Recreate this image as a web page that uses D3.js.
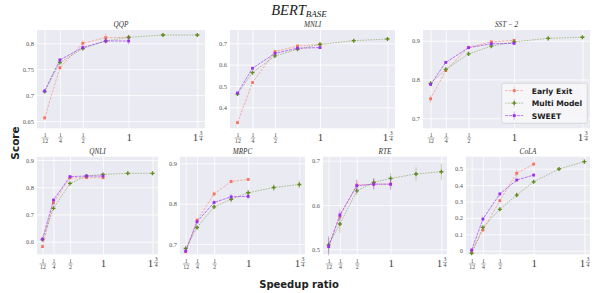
<!DOCTYPE html>
<html>
<head>
<meta charset="utf-8">
<script src="https://cdn.jsdelivr.net/npm/d3@7"></script>
<style>
body { margin: 0; background: #fff; }
</style>
</head>
<body>
<svg id="chart" width="598" height="293"></svg>
<script>
// tasks, in panel order
const tasks = ["QQP", "MNLI", "SST − 2", "QNLI", "MRPC", "RTE", "CoLA"];

// speedup ratios
const ratiosShort = [1/12, 1/4, 1/2, 3/4, 1];
const ratiosLong = [1/12, 1/4, 1/2, 3/4, 1, 1.375, 1.75];
const xTicks = [1/12, 1/4, 1/2, 1, 1.75];
const xTickLabels = ["1/12", "1/4", "1/2", "1", "1 3/4"];

const yTicks = [
  [0.65, 0.7, 0.75, 0.8],
  [0.4, 0.5, 0.6, 0.7],
  [0.7, 0.8, 0.9],
  [0.6, 0.7, 0.8, 0.9],
  [0.7, 0.8, 0.9],
  [0.5, 0.6, 0.7],
  [0, 0.1, 0.2, 0.3, 0.4, 0.5]
];

const earlyExit = [
  [0.656, 0.753, 0.800, 0.811, 0.8115],
  [0.328, 0.516, 0.661, 0.6875, 0.695],
  [0.750, 0.823, 0.883, 0.897, 0.901],
  [0.582, 0.743, 0.834, 0.835, 0.835],
  [0.681, 0.759, 0.824, 0.855, 0.860],
  [0.5075, 0.574, 0.645, 0.647, 0.647],
  [-0.006, 0.126, 0.305, 0.472, 0.528]
];
const earlyExitErr = [
  [0.003, 0.004, 0.007, 0.008, 0.006],
  [0.003, 0.003, 0.004, 0.003, 0.003],
  [0.010, 0.004, 0.003, 0.003, 0.003],
  [0.004, 0.004, 0.004, 0.004, 0.004],
  [0.004, 0.005, 0.007, 0.005, 0.004],
  [0.010, 0.010, 0.012, 0.012, 0.012],
  [0.010, 0.010, 0.010, 0.025, 0.010]
];

const multiModel = [
  [0.707, 0.763, 0.790, 0.8045, 0.8115, 0.816, 0.816],
  [0.4625, 0.5625, 0.641, 0.672, 0.695, 0.7125, 0.720],
  [0.790, 0.826, 0.866, 0.886, 0.897, 0.906, 0.909],
  [0.608, 0.7225, 0.814, 0.841, 0.847, 0.851, 0.851],
  [0.689, 0.741, 0.792, 0.811, 0.827, 0.840, 0.8475],
  [0.510, 0.557, 0.632, 0.651, 0.660, 0.670, 0.675],
  [-0.016, 0.142, 0.252, 0.339, 0.420, 0.498, 0.543]
];
const multiModelErr = [
  [0.002, 0.003, 0.003, 0.003, 0.003, 0.003, 0.003],
  [0.003, 0.003, 0.003, 0.003, 0.003, 0.003, 0.003],
  [0.003, 0.003, 0.003, 0.003, 0.003, 0.003, 0.003],
  [0.004, 0.004, 0.004, 0.004, 0.004, 0.004, 0.004],
  [0.005, 0.005, 0.006, 0.008, 0.008, 0.008, 0.010],
  [0.020, 0.020, 0.010, 0.010, 0.012, 0.015, 0.018],
  [0.010, 0.012, 0.010, 0.015, 0.010, 0.005, 0.005]
];

const sweet = [
  [0.708, 0.768, 0.792, 0.8045, 0.8045],
  [0.467, 0.583, 0.653, 0.677, 0.680],
  [0.787, 0.844, 0.882, 0.892, 0.893],
  [0.609, 0.753, 0.839, 0.841, 0.841],
  [0.6825, 0.755, 0.803, 0.817, 0.818],
  [0.506, 0.5775, 0.6435, 0.647, 0.647],
  [0.004, 0.193, 0.346, 0.431, 0.461]
];
const sweetErr = [
  [0.002, 0.003, 0.004, 0.006, 0.007],
  [0.003, 0.003, 0.003, 0.003, 0.003],
  [0.003, 0.003, 0.003, 0.003, 0.003],
  [0.004, 0.004, 0.004, 0.004, 0.004],
  [0.004, 0.005, 0.007, 0.007, 0.007],
  [0.020, 0.012, 0.013, 0.012, 0.013],
  [0.010, 0.015, 0.010, 0.010, 0.010]
];

// layout of each panel (plot area in px) and its y range
const panels = [
  {x0: 37,  x1: 205, y0: 30,    y1: 128.3, yDom: [0.636, 0.8257]},
  {x0: 230, x1: 395, y0: 30,    y1: 128.3, yDom: [0.3016, 0.7624]},
  {x0: 423, x1: 590, y0: 30,    y1: 128.3, yDom: [0.674, 0.9276]},
  {x0: 37,  x1: 158, y0: 156.7, y1: 254.3, yDom: [0.5537, 0.912]},
  {x0: 180, x1: 305, y0: 156.7, y1: 254.3, yDom: [0.6745, 0.9164]},
  {x0: 323, x1: 447, y0: 156.7, y1: 254.3, yDom: [0.4887, 0.709]},
  {x0: 466, x1: 590, y0: 156.7, y1: 254.3, yDom: [-0.022, 0.573]}
];

const series = [
  {name: "Early Exit", vals: earlyExit, errs: earlyExitErr, xs: ratiosShort,
   color: "#f8735f", lineOp: 0.65, dash: "2.5,1.3", marker: "square"},
  {name: "Multi Model", vals: multiModel, errs: multiModelErr, xs: ratiosLong,
   color: "#5f8c1f", lineOp: 0.6, dash: "1.6,1.1", marker: "plus"},
  {name: "SWEET", vals: sweet, errs: sweetErr, xs: ratiosShort,
   color: "#9b2ff0", lineOp: 0.8, dash: "3,0.9", marker: "square"}
];

const serif = "'Liberation Serif', 'DejaVu Serif', serif";
const sans = "'DejaVu Sans', sans-serif";

const svg = d3.select("#chart");

function drawMarker(g, type, cx, cy, color) {
  if (type === "square") {
    g.append("rect")
      .attr("x", cx - 1.4).attr("y", cy - 1.4)
      .attr("width", 2.8).attr("height", 2.8)
      .attr("fill", color);
  } else {
    g.append("path")
      .attr("d", d3.symbol(d3.symbolCross, 9)())
      .attr("transform", `translate(${cx},${cy})`)
      .attr("fill", color);
  }
}

function drawTickLabel(g, label) {
  if (label === "1") {
    g.append("text").attr("y", 12.6).attr("text-anchor", "middle")
      .attr("font-size", 11).text("1");
    return;
  }
  let cx = 0, top = 0, fs = 5.8, big = null;
  if (label.includes(" ")) {
    big = label.split(" ")[0];
    label = label.split(" ")[1];
    cx = 3.2; top = -1.6;
    g.append("text").attr("x", -2.4).attr("y", 12.6).attr("text-anchor", "middle")
      .attr("font-size", 11).text(big);
  }
  const [num, den] = label.split("/");
  g.append("text").attr("x", cx).attr("y", top + 8.3).attr("text-anchor", "middle")
    .attr("font-size", fs).text(num);
  const bw = den.length > 1 ? 3.4 : 2.2;
  g.append("line").attr("x1", cx - bw).attr("x2", cx + bw)
    .attr("y1", top + 9.7).attr("y2", top + 9.7)
    .attr("stroke", "#444").attr("stroke-width", 0.45);
  g.append("text").attr("x", cx).attr("y", top + 14.6).attr("text-anchor", "middle")
    .attr("font-size", fs).text(den);
}

panels.forEach((p, i) => {
  const w = p.x1 - p.x0, h = p.y1 - p.y0;
  const x = d3.scaleLinear().domain([0, 1.8333]).range([0, w]);
  const y = d3.scaleLinear().domain(p.yDom).range([h, 0]);

  const g = svg.append("g").attr("transform", `translate(${p.x0},${p.y0})`);

  g.append("rect").attr("width", w).attr("height", h).attr("fill", "#eaeaf2");

  // vertical grid + x tick labels
  const gx = g.append("g").attr("transform", `translate(0,${h})`)
    .call(d3.axisBottom(x).tickValues(xTicks).tickSize(-h).tickFormat(""));
  gx.select(".domain").remove();
  gx.selectAll(".tick line").attr("stroke", "#fff").attr("stroke-width", 0.8);
  gx.selectAll(".tick").append("g")
    .attr("font-family", serif).attr("fill", "#444")
    .each(function(d, j) { drawTickLabel(d3.select(this), xTickLabels[j]); });

  // horizontal grid + y tick labels
  const gy = g.append("g")
    .call(d3.axisLeft(y).tickValues(yTicks[i]).tickSize(-w).tickFormat(d => String(d)));
  gy.select(".domain").remove();
  gy.selectAll(".tick line").attr("stroke", "#fff").attr("stroke-width", 0.8);
  gy.selectAll(".tick text")
    .attr("x", -3).attr("font-family", serif).attr("font-size", 6.4).attr("fill", "#555");

  // panel title
  svg.append("text")
    .attr("x", p.x0 + w / 2).attr("y", p.y0 - 3)
    .attr("text-anchor", "middle")
    .attr("font-family", serif).attr("font-style", "italic")
    .attr("font-size", 7.2).attr("fill", "#333")
    .text(tasks[i]);

  // data
  series.forEach(s => {
    const pts = s.xs.map((xv, k) => ({x: xv, y: s.vals[i][k], e: s.errs[i][k]}));
    const sg = g.append("g");
    sg.selectAll("line.err").data(pts).join("line")
      .attr("class", "err")
      .attr("x1", d => x(d.x)).attr("x2", d => x(d.x))
      .attr("y1", d => y(d.y - d.e)).attr("y2", d => y(d.y + d.e))
      .attr("stroke", s.color).attr("stroke-opacity", 0.5).attr("stroke-width", 0.7);
    sg.append("path").datum(pts)
      .attr("d", d3.line().x(d => x(d.x)).y(d => y(d.y)))
      .attr("fill", "none").attr("stroke", s.color)
      .attr("stroke-opacity", s.lineOp).attr("stroke-width", 0.8)
      .attr("stroke-dasharray", s.dash);
    pts.forEach(d => drawMarker(sg, s.marker, x(d.x), y(d.y), s.color));
  });
});

// legend in the SST-2 panel
const lg = svg.append("g").attr("transform", "translate(501.7,83.3)");
lg.append("rect").attr("width", 85.6).attr("height", 40).attr("rx", 2)
  .attr("fill", "#f7f7fa").attr("fill-opacity", 0.9)
  .attr("stroke", "#cfcfd6").attr("stroke-width", 0.8);
series.forEach((s, k) => {
  const yy = 7.3 + k * 12.5;
  lg.append("line").attr("x1", 3.5).attr("x2", 21.5).attr("y1", yy).attr("y2", yy)
    .attr("stroke", s.color).attr("stroke-opacity", s.lineOp)
    .attr("stroke-width", 0.8).attr("stroke-dasharray", s.dash);
  lg.append("line").attr("x1", 12.5).attr("x2", 12.5).attr("y1", yy - 4).attr("y2", yy + 4)
    .attr("stroke", s.color).attr("stroke-opacity", 0.5).attr("stroke-width", 0.7);
  drawMarker(lg, s.marker, 12.5, yy, s.color);
  lg.append("text").attr("x", 30).attr("y", yy + 3)
    .attr("font-family", sans).attr("font-weight", "bold")
    .attr("font-size", 7.6).attr("fill", "#222")
    .text(s.name);
});

// title
const title = svg.append("text")
  .attr("x", 299).attr("y", 14.8).attr("text-anchor", "middle")
  .attr("font-family", serif).attr("font-style", "italic")
  .attr("font-size", 14.5).attr("fill", "#222");
title.append("tspan").text("BERT");
title.append("tspan").attr("font-size", 9).attr("dy", 2.6).text("BASE");

// axis titles
svg.append("text")
  .attr("transform", "translate(19,143) rotate(-90)")
  .attr("text-anchor", "middle")
  .attr("font-family", sans).attr("font-weight", "bold")
  .attr("font-size", 10.5).attr("fill", "#222")
  .text("Score");

svg.append("text")
  .attr("x", 299).attr("y", 288).attr("text-anchor", "middle")
  .attr("font-family", sans).attr("font-weight", "bold")
  .attr("font-size", 10).attr("fill", "#222")
  .text("Speedup ratio");
</script>
</body>
</html>
